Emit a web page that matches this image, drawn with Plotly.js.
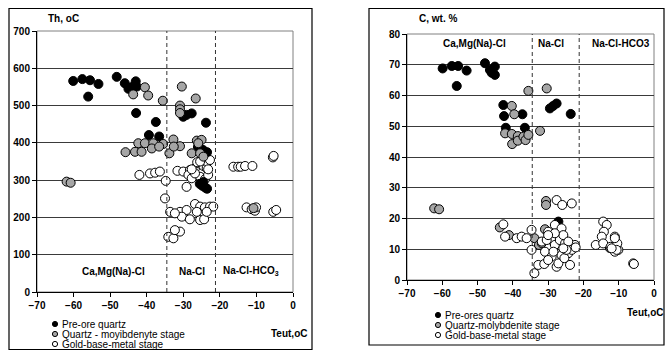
<!DOCTYPE html>
<html><head><meta charset="utf-8">
<script src="https://cdn.plot.ly/plotly-3.0.1.min.js"></script>
<style>html,body{margin:0;padding:0;background:#fff}#chart{width:665px;height:351px}</style>
</head><body><div id="chart"></div>
<script>
// ---- Left panel: Th (oC) vs Teut (oC)
const thBlackX = [-60.1,-57.6,-55.5,-53.2,-56.0,-48.2,-46.0,-44.0,-43.0,-45.0,-42.7,-42.9,-37.5,-39.4,-36.6,-30.0,-29.1,-27.7,-23.8,-26.0,-24.6,-23.5,-25.5,-24.8,-24.0,-23.5,-24.5];
const thBlackY = [566,571,568,558,524,577,560,550,565,545,551,480,456,421,417,470,475,479,454,389,381,375,290,285,280,277,295];
const thGrayX = [-40.5,-43.7,-39.6,-35.6,-30.4,-30.9,-30.9,-30.9,-26.6,-42.3,-40.5,-38.2,-35.5,-32.7,-30.9,-43.2,-41.4,-38.6,-36.6,-33.8,-32.6,-45.8,-26.3,-25.0,-25.9,-27.7,-25.4,-24.5,-61.9,-60.8,-10.8];
const thGrayY = [549,530,527,513,551,500,490,480,519,399,399,399,397,409,391,376,376,385,390,372,390,375,406,408,399,372,372,363,296,293,225];
const thWhiteX = [-5.5,-5.3,-16.3,-15.0,-14.3,-13.1,-11.1,-42.0,-39.1,-37.7,-36.4,-34.8,-35.0,-30.9,-29.1,-26.8,-25.4,-24.1,-22.7,-21.8,-30.4,-28.2,-25.4,-24.3,-23.6,-26.3,-33.6,-32.3,-34.1,-32.7,-30.9,-32.3,-12.7,-11.3,-10.4,-10.1,-5.4,-4.6,-31.6,-30.0,-28.2,-26.8,-25.9,-24.5,-23.6,-23.4,-25.0,-26.2,-28.6,-27.7,-25.4,-24.1,-23.2,-29.1,-26.8,-25.4,-27.7,-23.2,-22.7];
const thWhiteY = [361,365,336,336,336,338,338,314,318,320,323,298,251,215,220,236,229,227,229,229,202,195,193,195,215,215,215,211,148,144,162,166,227,222,218,227,215,220,325,323,327,332,345,338,332,349,358,348,314,305,309,302,314,282,318,350,329,329,354];

// ---- Right panel: C (wt.%) vs Teut (oC)
const cBlackX = [-59.9,-57.3,-55.5,-53.1,-55.9,-47.9,-46.5,-45.1,-46.0,-45.1,-42.7,-42.5,-37.3,-42.0,-36.6,-29.5,-28.6,-27.6,-23.6,-27.1];
const cBlackY = [68.8,69.6,69.6,68.1,63.1,70.5,68.3,69.4,67.4,66.7,56.9,53.3,53.9,49.5,49.5,55.8,56.6,57.4,54.0,19.0];
const cGrayX = [-35.6,-30.4,-40.3,-39.6,-32.3,-42.2,-40.3,-38.6,-40.2,-38.6,-37.0,-36.4,-35.6,-62.3,-60.9,-30.6,-30.6,-43.7,-30.9,-33.9,-32.6,-41.1,-31.8,-12.5];
const cGrayY = [61.5,62.3,56.6,53.9,48.5,47.7,47.5,46.8,44.2,45.3,46.6,45.5,47.2,23.3,23.0,25.7,24.4,17.1,16.5,13.6,11.4,14.6,12.0,10.4];
const cWhiteX = [-27.6,-26.0,-23.3,-34.7,-42.7,-42.2,-38.9,-37.5,-36.1,-34.7,-33.9,-32.8,-31.1,-30.0,-29.0,-28.1,-26.7,-25.2,-23.8,-22.4,-30.9,-29.0,-26.2,-24.3,-23.3,-27.6,-27.1,-25.4,-23.8,-30.0,-28.1,-26.2,-25.7,-28.1,-24.3,-31.8,-30.4,-28.5,-22.2,-24.8,-25.7,-30.0,-14.4,-13.4,-14.2,-14.8,-11.1,-16.5,-14.4,-12.3,-10.1,-11.1,-10.4,-5.9,-5.7,-11.1,-10.6,-12.0];
const cWhiteY = [26.0,24.4,24.9,16.3,18.1,14.1,13.6,14.1,13.6,9.8,2.2,4.9,5.2,15.7,13.0,11.4,13.0,11.9,11.4,11.4,9.2,7.6,8.1,8.7,9.8,4.3,5.4,7.1,4.9,6.5,17.9,16.8,14.6,15.2,12.5,12.5,13.0,9.2,10.6,9.8,10.3,14.6,19.0,17.9,15.7,14.1,14.1,11.4,11.9,10.8,9.8,9.2,11.9,5.4,5.2,13.6,9.8,10.3];

const boundaries = [-34.5, -21.2];
const xTicks = [-70,-60,-50,-40,-30,-20,-10,0];
const thTicks = [0,100,200,300,400,500,600,700];
const cTicks = [0,10,20,30,40,50,60,70,80];
const zoneNames = ['Ca,Mg(Na)-Cl','Na-Cl','Na-Cl-HCO<sub>3</sub>'];
const zoneNamesR = ['Ca,Mg(Na)-Cl','Na-Cl','Na-Cl-HCO3'];
const zoneX = [-49.2,-27.6,-11.5];
const zoneXR = [-51,-29.2,-9.4];
const legendLeft = ['Pre-ore quartz','Quartz - moyibdenyte stage','Gold-base-metal stage'];
const legendRight = ['Pre-ores quartz','Quartz-molybdenite stage','Gold-base-metal stage'];
const fills = ['#000000','#a6a6a6','#ffffff'];

const FONT = 'Liberation Sans, Arial, sans-serif';
const W = 665, H = 351;
const px = v => v / W, py = v => (H - v) / H;

function tr(x, y, fill, xa, ya) {
  return {x, y, xaxis: xa, yaxis: ya, type: 'scatter', mode: 'markers', showlegend: false, hoverinfo: 'skip',
    marker: {size: 9, color: fill, line: {color: '#000', width: 1}}};
}
const data = [
  tr(thWhiteX, thWhiteY, fills[2], 'x', 'y'),
  tr(thBlackX, thBlackY, fills[0], 'x', 'y'),
  tr(thGrayX, thGrayY, fills[1], 'x', 'y'),
  tr(cBlackX, cBlackY, fills[0], 'x2', 'y2'),
  tr(cGrayX, cGrayY, fills[1], 'x2', 'y2'),
  tr(cWhiteX, cWhiteY, fills[2], 'x2', 'y2')
];

function xax(domain, anchor) {
  return {domain, anchor, range: [-70, 0], tickvals: xTicks, ticks: 'outside', ticklen: 4, tickcolor: '#000',
    showgrid: false, zeroline: false, showline: true, linecolor: '#000', linewidth: 1,
    tickfont: {family: FONT, size: 10, weight: 'bold', color: '#000'}, fixedrange: true};
}
function yax(domain, anchor, range, ticks) {
  return {domain, anchor, range, tickvals: ticks, ticks: 'outside', ticklen: 4, tickcolor: '#000',
    showgrid: true, gridcolor: '#3a3a3a', gridwidth: 1, zeroline: false, showline: true, linecolor: '#000', linewidth: 1,
    tickfont: {family: FONT, size: 10, weight: 'bold', color: '#000'}, fixedrange: true};
}

const shapes = [];
// outer frames
shapes.push({type: 'rect', xref: 'paper', yref: 'paper', x0: px(9), x1: px(312), y0: py(349.5), y1: py(8.5), line: {color: '#000', width: 1.2}});
shapes.push({type: 'rect', xref: 'paper', yref: 'paper', x0: px(369), x1: px(664), y0: py(345), y1: py(8.5), line: {color: '#000', width: 1.2}});
// plot area frames
shapes.push({type: 'rect', xref: 'x domain', yref: 'y domain', x0: 0, x1: 1, y0: 0, y1: 1, line: {color: '#808080', width: 1}, layer: 'below'});
shapes.push({type: 'rect', xref: 'x2 domain', yref: 'y2 domain', x0: 0, x1: 1, y0: 0, y1: 1, line: {color: '#808080', width: 1}, layer: 'below'});
// zone boundaries
boundaries.forEach(b => {
  shapes.push({type: 'line', xref: 'x', yref: 'y domain', x0: b, x1: b, y0: 0, y1: 1, line: {color: '#333', width: 1, dash: '4px,3px'}});
  shapes.push({type: 'line', xref: 'x2', yref: 'y2 domain', x0: b, x1: b, y0: 0, y1: 1, line: {color: '#333', width: 1, dash: '4px,3px'}});
});

const annotations = [];
const bold = (text, x, y, xref, yref, xanchor, size) => ({text, x, y, xref, yref, xanchor: xanchor || 'center', yanchor: 'middle',
  showarrow: false, font: {family: FONT, size: size || 10, weight: 'bold', color: '#000'}});
zoneNames.forEach((n, i) => annotations.push(bold(n, zoneX[i], 56, 'x', 'y')));
zoneNamesR.forEach((n, i) => annotations.push(bold(n, zoneXR[i], 77, 'x2', 'y2')));
annotations.push(bold('Th, oC', px(46), py(19), 'paper', 'paper', 'left'));
annotations.push(bold('C, wt. %', px(417), py(19), 'paper', 'paper', 'left'));
annotations.push(bold('Teut,oC', px(309), py(333), 'paper', 'paper', 'right'));
annotations.push(bold('Teut,oC', px(665), py(312), 'paper', 'paper', 'right'));

// legends (drawn as shapes + text)
function legend(labels, mx, tx, ys) {
  labels.forEach((lab, i) => {
    const r = 2.6;
    shapes.push({type: 'circle', xref: 'paper', yref: 'paper', x0: px(mx - r), x1: px(mx + r), y0: py(ys[i] + r), y1: py(ys[i] - r),
      fillcolor: fills[i], line: {color: '#000', width: 1}});
    annotations.push({text: lab, x: px(tx), y: py(ys[i]), xref: 'paper', yref: 'paper', xanchor: 'left', yanchor: 'middle',
      showarrow: false, font: {family: FONT, size: 10, color: '#000'}});
  });
}
legend(legendLeft, 55, 60, [324, 334, 344]);
legend(legendRight, 438, 443, [315, 325, 335]);

const layout = {
  width: W, height: H, margin: {l: 0, r: 0, t: 0, b: 0}, paper_bgcolor: '#fff', plot_bgcolor: '#fff',
  showlegend: false,
  xaxis: xax([px(37), px(293)], 'y'),
  yaxis: yax([py(292), py(31)], 'x', [0, 700], thTicks),
  xaxis2: xax([px(407), px(654)], 'y2'),
  yaxis2: yax([py(280), py(34)], 'x2', [0, 80], cTicks),
  shapes, annotations
};
Plotly.newPlot('chart', data, layout, {staticPlot: true, displayModeBar: false});
</script></body></html>
